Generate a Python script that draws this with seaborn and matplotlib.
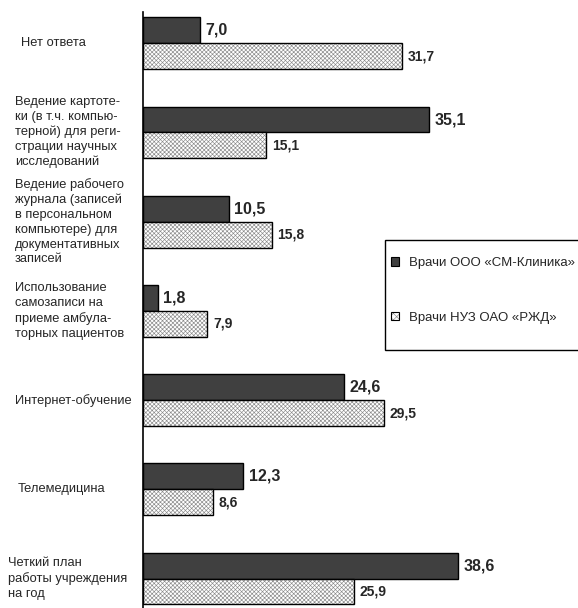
import matplotlib
matplotlib.use("Agg")
import matplotlib.pyplot as plt
import seaborn as sns
import pandas as pd
from matplotlib.patches import Patch, Rectangle
from matplotlib.colors import to_rgba

categories = [
    "Нет ответа",
    "Ведение картоте-\nки (в т.ч. компью-\nтерной) для реги-\nстрации научных\nисследований",
    "Ведение рабочего\nжурнала (записей\nв персональном\nкомпьютере) для\nдокументативных\nзаписей",
    "Использование\nсамозаписи на\nприеме амбула-\nторных пациентов",
    "Интернет-обучение",
    "Телемедицина",
    "Четкий план\nработы учреждения\nна год",
]
series_names = ["Врачи ООО «СМ-Клиника»", "Врачи НУЗ ОАО «РЖД»"]
clinic_values = [7.0, 35.1, 10.5, 1.8, 24.6, 12.3, 38.6]
rzd_values = [31.7, 15.1, 15.8, 7.9, 29.5, 8.6, 25.9]

# left edge (px) of each category label
label_x_px = [21, 15, 15, 15, 15, 18, 8]

sns.set_style("white")
plt.rcParams['font.family'] = ['Liberation Sans', 'DejaVu Sans']
plt.rcParams['hatch.linewidth'] = 0.45

HATCH = "xxxxxxxx"
HATCH_COLOR = to_rgba("#8a8a8a")

df = pd.DataFrame({
    "cat": list(range(len(categories))) * 2,
    "val": clinic_values + rzd_values,
    "grp": [series_names[0]] * len(categories) + [series_names[1]] * len(categories),
})

fig = plt.figure(figsize=(5.78, 6.08), dpi=100)
ax = fig.add_axes([143 / 578, 0, 435 / 578, 596 / 608])

sns.barplot(data=df, y="cat", x="val", hue="grp", orient="h",
            palette=["#404040", "white"], width=0.58, edgecolor="black",
            linewidth=1.0, ax=ax, legend=False, hue_order=series_names)

for p in ax.containers[1]:
    p.set_hatch(HATCH)
    p._hatch_color = HATCH_COLOR

label_sizes = [11.5, 10]
for i, (cont, vals) in enumerate(zip(ax.containers, [clinic_values, rzd_values])):
    ax.bar_label(cont, labels=[f"{v:.1f}".replace(".", ",") for v in vals],
                 padding=4, fontsize=label_sizes[i], fontweight="bold")

ax.set_xlim(0, 53.3)
ax.set_ylim(6.33, -0.35)
ax.set_xticks([])
ax.set_yticks([])
ax.set_xlabel("")
ax.set_ylabel("")
for s in ["top", "right", "bottom"]:
    ax.spines[s].set_visible(False)
ax.spines["left"].set_color("black")
ax.spines["left"].set_linewidth(1.2)

ytr = ax.get_yaxis_transform()
for i, c in enumerate(categories):
    ax.text((label_x_px[i] - 143) / 435, i, c, transform=ytr, ha="left", va="center",
            fontsize=9.3, linespacing=1.3, clip_on=False)

# legend frame
fig.patches.append(Rectangle((385 / 578, 1 - 350 / 608), 200 / 578, 110 / 608,
                             transform=fig.transFigure, facecolor="white",
                             edgecolor="black", linewidth=1.0, zorder=5))

handles = [Patch(facecolor="#404040", edgecolor="black", linewidth=0.8),
           Patch(facecolor="white", edgecolor="black", linewidth=0.8, hatch="xxxxx")]
leg = fig.legend(handles, series_names, loc="upper left",
                 bbox_to_anchor=(391 / 578, 1 - 257 / 608),
                 frameon=False, fontsize=9.5, handlelength=0.6, handleheight=0.6,
                 labelspacing=3.25, borderpad=0, handletextpad=0.8,
                 borderaxespad=0)
leg.set_zorder(6)
leg.legend_handles[1]._hatch_color = HATCH_COLOR

fig.savefig("out.png", dpi=100)
